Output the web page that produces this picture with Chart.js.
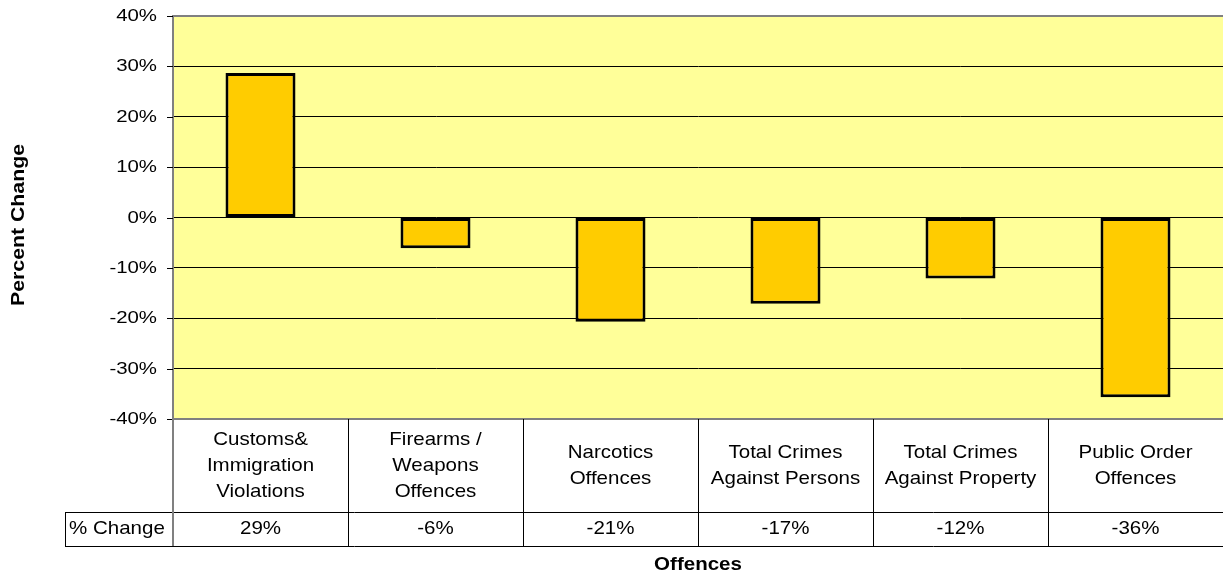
<!DOCTYPE html>
<html>
<head>
<meta charset="utf-8">
<script src="https://cdn.jsdelivr.net/npm/chart.js@4.4.1/dist/chart.umd.min.js"></script>
<style>
  html, body { margin: 0; padding: 0; background: #fff; }
  #wrap { width: 1223px; height: 575px; position: relative; }
</style>
</head>
<body>
<div id="wrap"><canvas id="crimeChart"></canvas></div>
<script>
// categories, split into the lines shown in the table
const categories = [
  ["Customs&", "Immigration", "Violations"],
  ["Firearms /", "Weapons", "Offences"],
  ["Narcotics", "Offences"],
  ["Total Crimes", "Against Persons"],
  ["Total Crimes", "Against Property"],
  ["Public Order", "Offences"],
];
const pctChange = [28.7, -6.1, -20.7, -17.1, -12.1, -35.7];
const rowLabel = "% Change";
const yTitle = "Percent Change";
const xTitle = "Offences";

const FONT = "'Liberation Sans', Arial, sans-serif";

// text that is a little wider than the font (the original is stretched)
function stretchText(ctx, text, x, y, opts) {
  const o = Object.assign({ size: 19, bold: false, sx: 1.08, align: "center", rotate: 0 }, opts);
  ctx.save();
  ctx.translate(x, y);
  if (o.rotate) ctx.rotate(o.rotate);
  ctx.scale(o.sx, 1);
  ctx.font = (o.bold ? "bold " : "") + o.size + "px " + FONT;
  ctx.fillStyle = "#000";
  ctx.textAlign = o.align;
  ctx.textBaseline = "middle";
  ctx.fillText(text, 0, 0);
  ctx.restore();
}

const plotBg = {
  id: "plotBg",
  beforeDraw(chart) {
    const { ctx, chartArea: a } = chart;
    ctx.save();
    ctx.fillStyle = "#FFFF99";
    ctx.fillRect(a.left, a.top, a.right - a.left, a.bottom - a.top);
    ctx.restore();
  },
};

const tableAndLabels = {
  id: "tableAndLabels",
  afterDraw(chart) {
    const { ctx, chartArea: a } = chart;
    const xs = chart.scales.x;
    const ys = chart.scales.y;
    const half = (xs.getPixelForValue(1) - xs.getPixelForValue(0)) / 2;
    const row1Top = a.bottom;
    const row2Top = 512;
    const row2Bot = 546;
    const labelLeft = 65;

    // y tick marks and labels
    ctx.save();
    ctx.strokeStyle = "#000";
    ctx.lineWidth = 1;
    ys.ticks.forEach((t) => {
      const py = Math.round(ys.getPixelForValue(t.value)) + 0.5;
      ctx.beginPath();
      ctx.moveTo(a.left - 6, py);
      ctx.lineTo(a.left, py);
      ctx.stroke();
      stretchText(ctx, t.value + "%", a.left - 16, py, { size: 17, sx: 1.2, align: "right" });
    });

    // table lines
    ctx.strokeStyle = "#000";
    ctx.beginPath();
    ctx.moveTo(labelLeft, row2Top + 0.5);
    ctx.lineTo(a.right, row2Top + 0.5);
    ctx.moveTo(labelLeft, row2Bot + 0.5);
    ctx.lineTo(a.right, row2Bot + 0.5);
    ctx.moveTo(labelLeft + 0.5, row2Top);
    ctx.lineTo(labelLeft + 0.5, row2Bot);
    categories.forEach((c, i) => {
      const edge = Math.round(xs.getPixelForValue(i) + half) + 0.5;
      ctx.moveTo(edge, row1Top);
      ctx.lineTo(edge, row2Bot);
    });
    ctx.stroke();
    ctx.strokeStyle = "#808080";
    ctx.lineWidth = 2;
    ctx.beginPath();
    ctx.moveTo(a.left, row1Top);
    ctx.lineTo(a.left, row2Bot);
    ctx.stroke();

    // table text
    const midRow1 = (row1Top + row2Top) / 2;
    const midRow2 = (row2Top + row2Bot) / 2;
    categories.forEach((lines, i) => {
      const cx = xs.getPixelForValue(i);
      const start = midRow1 - ((lines.length - 1) * 26) / 2;
      lines.forEach((ln, j) => stretchText(ctx, ln, cx, start + j * 26));
      stretchText(ctx, Math.round(pctChange[i]) + "%", cx, midRow2);
    });
    stretchText(ctx, rowLabel, labelLeft + 4, midRow2, { align: "left" });

    // axis titles
    stretchText(ctx, xTitle, (a.left + a.right) / 2, 565, { bold: true });
    stretchText(ctx, yTitle, 19, 225, { bold: true, sx: 1.12, rotate: -Math.PI / 2 });
    ctx.restore();
  },
};

const chart = new Chart(document.getElementById("crimeChart"), {
  type: "bar",
  data: {
    labels: categories.map((c) => c.join(" ")),
    datasets: [
      {
        label: rowLabel,
        data: pctChange,
        backgroundColor: "#FFCC00",
        borderColor: "#000",
        borderWidth: 3,
        borderSkipped: false,
        categoryPercentage: 1,
        barPercentage: 0.4,
      },
    ],
  },
  plugins: [plotBg, tableAndLabels],
  options: {
    responsive: true,
    maintainAspectRatio: false,
    animation: false,
    layout: { padding: { left: 0, top: 16, right: 0, bottom: 156 } },
    plugins: {
      legend: { display: false },
      tooltip: { enabled: false },
    },
    scales: {
      x: { display: false },
      y: {
        min: -40,
        max: 40,
        ticks: { display: false, stepSize: 10 },
        grid: {
          drawTicks: false,
          color: (c) => (c.tick && Math.abs(c.tick.value) === 40 ? "#808080" : "#000"),
          lineWidth: (c) => (c.tick && Math.abs(c.tick.value) === 40 ? 2 : 1),
        },
        border: { display: true, color: "#808080", width: 2 },
        afterFit: (scale) => {
          scale.width = 173;
        },
      },
    },
  },
});
</script>
</body>
</html>
